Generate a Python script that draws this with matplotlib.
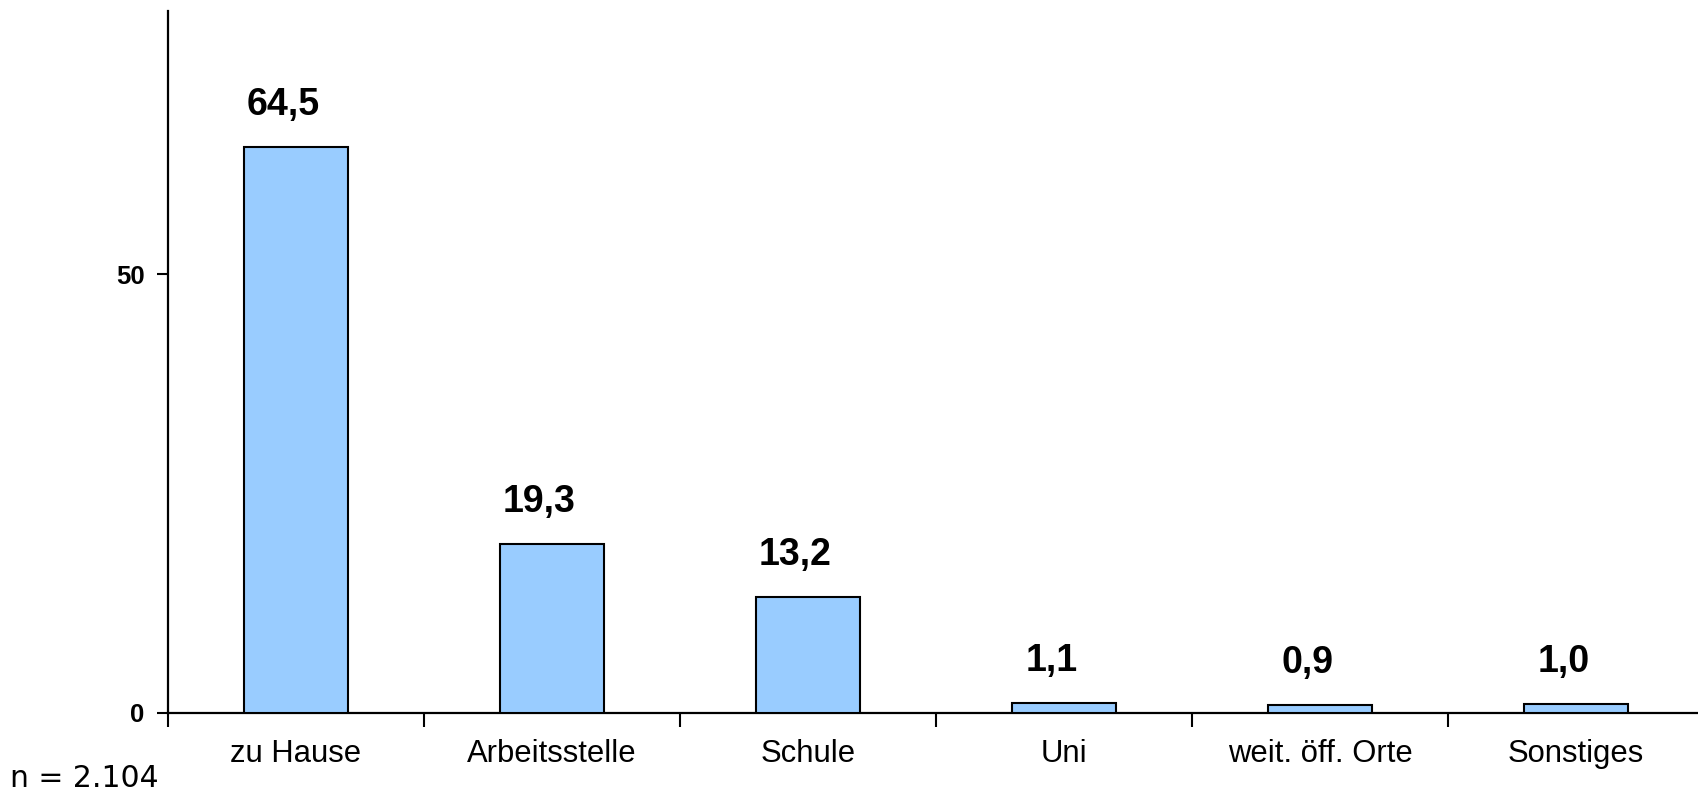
import matplotlib
matplotlib.use("Agg")
import matplotlib.pyplot as plt
import numpy as np

categories = ["zu Hause", "Arbeitsstelle", "Schule", "Uni", "weit. öff. Orte", "Sonstiges"]
values = [64.5, 19.3, 13.2, 1.1, 0.9, 1.0]
value_labels = ["64,5", "19,3", "13,2", "1,1", "0,9", "1,0"]
yticks = [0, 50]
note = "n = 2.104"

fig = plt.figure(figsize=(16.99, 7.93), dpi=100)
ax = fig.add_axes([168/1699, 1 - 713/793, 1 - 168/1699, (713 - 11)/793])

x = np.arange(len(categories))
ax.bar(x, values, width=0.41, color="#99CCFF", edgecolor="black", linewidth=1.5, zorder=3)

ax.set_xlim(-0.5, -0.5 + (1699 - 168) / 256)
ax.set_ylim(0, 80)

for s in ["top", "right"]:
    ax.spines[s].set_visible(False)
for s in ["left", "bottom"]:
    ax.spines[s].set_linewidth(1.6)

ax.set_yticks(yticks)
ax.set_yticklabels([str(v) for v in yticks])
ax.tick_params(axis="y", length=8, width=1.5, pad=9, labelsize=18.5)
for t in ax.get_yticklabels():
    t.set_fontweight("bold")
    t.set_family("Liberation Sans")

ax.set_xticks(np.arange(-0.5, len(categories) - 0.5, 1.0))
ax.set_xticklabels([])
ax.tick_params(axis="x", which="major", length=10, width=1.5, direction="out")
ax.set_xticks(x, minor=True)
ax.set_xticklabels(categories, minor=True)
ax.tick_params(axis="x", which="minor", length=0, pad=19, labelsize=22.3)
for t in ax.get_xticklabels(minor=True):
    t.set_family("Liberation Sans")

for xi, v, lab in zip(x, values, value_labels):
    ax.annotate(lab, (xi, v), xytext=(-9, 23), textcoords="offset points",
                ha="center", va="baseline", fontsize=27, fontweight="bold",
                family="Liberation Sans")

fig.text(10/1699, 1 - 787/793, note, fontsize=21.5, family="DejaVu Sans", ha="left", va="baseline")

fig.savefig("out.png", dpi=100)
